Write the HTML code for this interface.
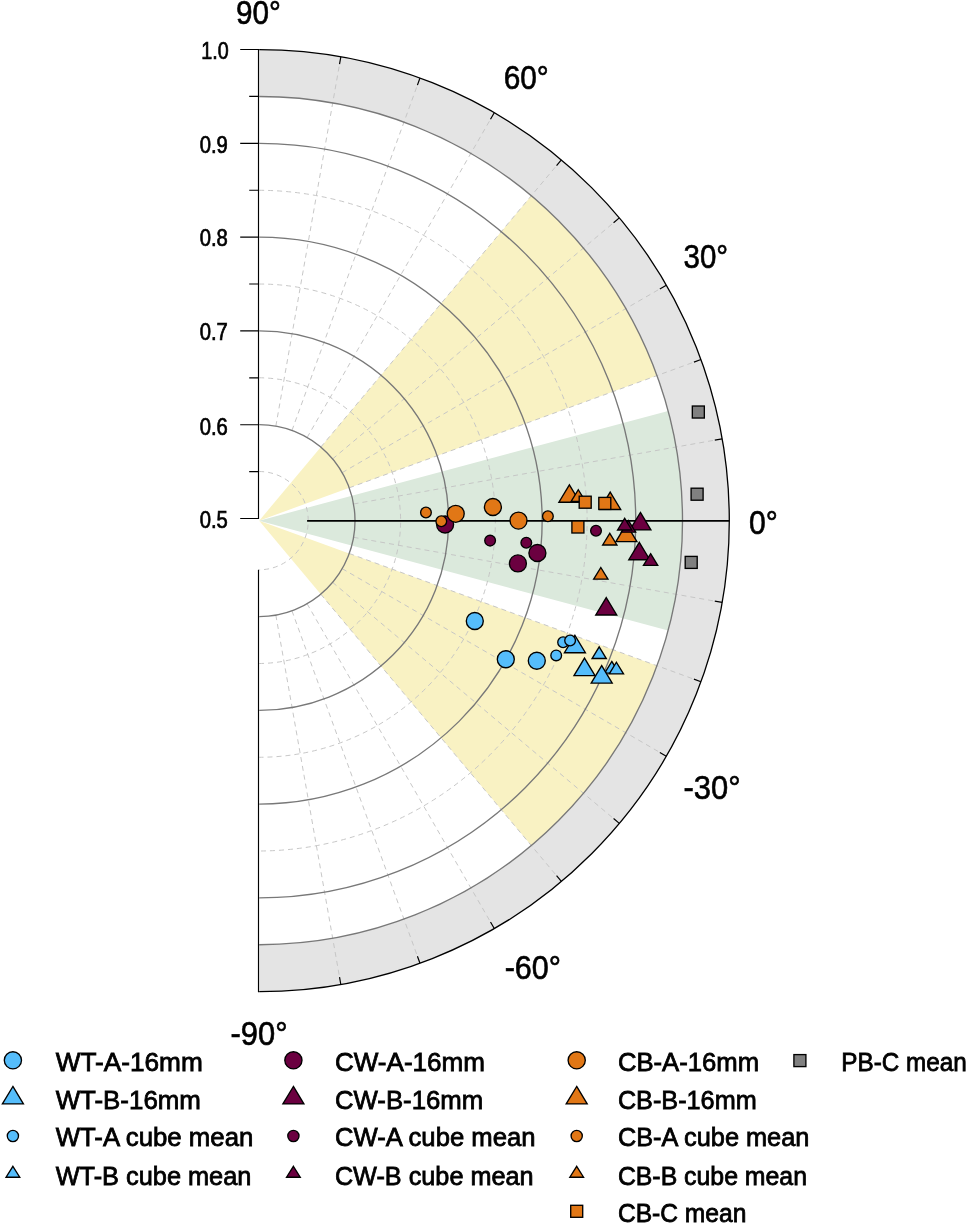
<!DOCTYPE html>
<html lang="en"><head><meta charset="utf-8"><title>Polar plot</title>
<style>html,body{margin:0;padding:0;background:#fff}body{width:968px;height:1225px;overflow:hidden}svg{display:block}text{font-family:"Liberation Sans",sans-serif;fill:#000}.tk{font-size:23.1px;stroke:#000;stroke-width:.7px}.ang{font-size:32.4px;stroke:#000;stroke-width:.6px}.lg{font-size:26.1px;stroke:#000;stroke-width:.8px}.m{stroke:#000;stroke-width:1.35;stroke-linejoin:miter}</style></head><body>
<svg width="968" height="1225" viewBox="0 0 968 1225">
<rect width="968" height="1225" fill="#fff"/>
<path d="M259.20 49.65A470.10 471.00 0 0 1 259.20 991.65L259.20 944.77A423.31 424.12 0 0 0 259.20 96.53Z" fill="#e4e4e4"/>
<path d="M259.20 520.65L656.99 375.59A423.31 424.12 0 0 0 531.30 195.75Z" fill="#f9f2c3"/>
<path d="M259.20 520.65L531.30 845.55A423.31 424.12 0 0 0 656.99 665.71Z" fill="#f9f2c3"/>
<path d="M259.20 520.65L668.09 630.42A423.31 424.12 0 0 0 668.09 410.88Z" fill="#dbe9dc"/>
<path d="M259.20 471.52A49.03 49.13 0 0 1 259.20 569.78M259.20 377.77A142.60 142.88 0 0 1 259.20 663.52M259.20 284.02A236.17 236.62 0 0 1 259.20 757.27M259.20 190.27A329.74 330.38 0 0 1 259.20 851.02" fill="none" stroke="#c4c4c4" stroke-width="0.95" stroke-dasharray="5 4"/>
<path d="M275.84 615.19L339.62 977.60M291.97 610.86L417.59 956.67M307.11 603.79L490.76 922.49M320.79 594.19L556.88 876.09M332.60 582.36L613.97 818.90M342.18 568.65L660.27 752.65M349.24 553.48L694.38 679.35M353.56 537.32L715.28 601.22M353.56 503.98L715.28 440.08M349.24 487.82L694.38 361.95M342.18 472.65L660.27 288.65M332.60 458.94L613.97 222.40M320.79 447.11L556.88 165.21M307.11 437.51L490.76 118.81M291.97 430.44L417.59 84.63M275.84 426.11L339.62 63.70" fill="none" stroke="#c4c4c4" stroke-width="0.95" stroke-dasharray="5 4"/>
<path d="M259.20 424.65A95.82 96.00 0 0 1 259.20 616.65M259.20 330.90A189.39 189.75 0 0 1 259.20 710.40M259.20 237.15A282.96 283.50 0 0 1 259.20 804.15M259.20 143.40A376.53 377.25 0 0 1 259.20 897.90M259.20 96.53A423.31 424.12 0 0 1 259.20 944.77" fill="none" stroke="#787878" stroke-width="1.35"/>
<path d="M259.20 49.65A470.10 471.00 0 0 1 259.20 991.65" fill="none" stroke="#000" stroke-width="1.3"/>
<path d="M340.83 984.49L339.53 977.11M419.98 963.25L417.42 956.20M494.25 928.55L490.51 922.05M561.37 881.46L556.56 875.71M619.32 823.40L613.58 818.58M666.32 756.15L659.84 752.40M700.95 681.74L693.92 679.18M722.16 602.44L714.79 601.14M722.16 438.86L714.79 440.16M700.95 359.56L693.92 362.12M666.32 285.15L659.84 288.90M619.32 217.90L613.58 222.72M561.37 159.84L556.56 165.59M494.25 112.75L490.51 119.25M419.98 78.05L417.42 85.10M340.83 56.81L339.53 64.19" fill="none" stroke="#000" stroke-width="1.2"/>
<path d="M307.1 520.9H729.30" stroke="#000" stroke-width="1.8" fill="none"/>
<path d="M258.5 48.9V519.1M240.20 49.5H258.5M240.20 143.3H258.5M240.20 237.1H258.5M240.20 330.9H258.5M240.20 424.7H258.5M240.20 518.5H258.5M249.20 96.40H258.5M249.20 190.20H258.5M249.20 284.00H258.5M249.20 377.80H258.5M249.20 471.60H258.5M258.5 569.8V992.25" fill="none" stroke="#000" stroke-width="1.15"/>
<text class="tk" x="201.28" y="59.20" textLength="27.41" lengthAdjust="spacingAndGlyphs">1.0</text>
<text class="tk" x="199.70" y="152.80" textLength="28.15" lengthAdjust="spacingAndGlyphs">0.9</text>
<text class="tk" x="199.70" y="246.40" textLength="28.15" lengthAdjust="spacingAndGlyphs">0.8</text>
<text class="tk" x="199.70" y="340.00" textLength="28.15" lengthAdjust="spacingAndGlyphs">0.7</text>
<text class="tk" x="199.70" y="434.60" textLength="28.15" lengthAdjust="spacingAndGlyphs">0.6</text>
<text class="tk" x="199.70" y="528.20" textLength="28.15" lengthAdjust="spacingAndGlyphs">0.5</text>
<text class="ang" x="236.04" y="23.50" textLength="44.85" lengthAdjust="spacingAndGlyphs">90°</text>
<text class="ang" x="503.64" y="89.00" textLength="45.10" lengthAdjust="spacingAndGlyphs">60°</text>
<text class="ang" x="683.53" y="268.20" textLength="44.64" lengthAdjust="spacingAndGlyphs">30°</text>
<text class="ang" x="748.97" y="534.00" textLength="28.82" lengthAdjust="spacingAndGlyphs">0°</text>
<text class="ang" x="683.57" y="799.10" textLength="57.10" lengthAdjust="spacingAndGlyphs">-30°</text>
<text class="ang" x="504.69" y="979.30" textLength="56.37" lengthAdjust="spacingAndGlyphs">-60°</text>
<text class="ang" x="230.55" y="1044.50" textLength="57.02" lengthAdjust="spacingAndGlyphs">-90°</text>
<g><circle class="m" cx="474.80" cy="621.00" r="8.5" fill="#55bdfb"/><circle class="m" cx="505.80" cy="659.20" r="8.5" fill="#55bdfb"/><circle class="m" cx="536.80" cy="660.70" r="8.5" fill="#55bdfb"/><path class="m" d="M611.80 661.45L618.93 673.09H604.67Z" fill="#55bdfb"/><path class="m" d="M574.90 635.30L585.40 652.75H564.40Z" fill="#55bdfb"/><path class="m" d="M584.50 658.10L595.00 675.55H574.00Z" fill="#55bdfb"/><path class="m" d="M601.70 665.65L612.20 683.10H591.20Z" fill="#55bdfb"/><circle class="m" cx="445.10" cy="524.50" r="8.5" fill="#6b0040"/><circle class="m" cx="537.40" cy="553.00" r="8.5" fill="#6b0040"/><circle class="m" cx="517.90" cy="563.40" r="8.5" fill="#6b0040"/><path class="m" d="M640.40 512.45L650.90 529.90H629.90Z" fill="#6b0040"/><path class="m" d="M639.30 542.30L649.80 559.75H628.80Z" fill="#6b0040"/><path class="m" d="M606.25 597.56L616.75 615.01H595.75Z" fill="#6b0040"/><circle class="m" cx="455.70" cy="513.80" r="8.5" fill="#e17716"/><circle class="m" cx="492.90" cy="507.00" r="8.5" fill="#e17716"/><circle class="m" cx="518.50" cy="520.60" r="8.5" fill="#e17716"/><path class="m" d="M569.40 484.80L579.90 502.25H558.90Z" fill="#e17716"/><path class="m" d="M610.20 492.05L620.70 509.50H599.70Z" fill="#e17716"/><path class="m" d="M626.40 524.15L636.90 541.60H615.90Z" fill="#e17716"/><circle class="m" cx="556.20" cy="655.40" r="5.35" fill="#55bdfb"/><circle class="m" cx="563.10" cy="642.20" r="5.35" fill="#55bdfb"/><circle class="m" cx="570.10" cy="640.50" r="5.35" fill="#55bdfb"/><path class="m" d="M599.20 646.90L606.33 658.54H592.07Z" fill="#55bdfb"/><path class="m" d="M616.40 662.25L623.53 673.89H609.27Z" fill="#55bdfb"/><circle class="m" cx="490.10" cy="540.60" r="5.35" fill="#6b0040"/><circle class="m" cx="526.30" cy="542.70" r="5.35" fill="#6b0040"/><circle class="m" cx="596.00" cy="530.70" r="5.35" fill="#6b0040"/><path class="m" d="M628.50 520.55L635.63 532.19H621.37Z" fill="#6b0040"/><path class="m" d="M624.70 518.35L631.83 529.99H617.57Z" fill="#6b0040"/><path class="m" d="M650.60 553.70L657.73 565.34H643.47Z" fill="#6b0040"/><circle class="m" cx="425.96" cy="512.45" r="5.35" fill="#e17716"/><circle class="m" cx="441.30" cy="521.20" r="5.35" fill="#e17716"/><circle class="m" cx="547.90" cy="516.20" r="5.35" fill="#e17716"/><path class="m" d="M578.30 489.75L585.43 501.39H571.17Z" fill="#e17716"/><path class="m" d="M609.80 533.35L616.93 544.99H602.67Z" fill="#e17716"/><path class="m" d="M600.83 567.51L607.96 579.15H593.70Z" fill="#e17716"/><rect class="m" x="579.20" y="496.20" width="12.0" height="12.0" fill="#e17716"/><rect class="m" x="598.80" y="497.40" width="12.0" height="12.0" fill="#e17716"/><rect class="m" x="571.90" y="521.00" width="12.0" height="12.0" fill="#e17716"/><rect class="m" x="692.33" y="406.03" width="12.0" height="12.0" fill="#808080"/><rect class="m" x="691.10" y="488.20" width="12.0" height="12.0" fill="#808080"/><rect class="m" x="685.20" y="556.40" width="12.0" height="12.0" fill="#808080"/></g>
<g><text class="lg" x="55.69" y="1071.00" textLength="147.11" lengthAdjust="spacingAndGlyphs">WT-A-16mm</text><circle class="m" cx="12.90" cy="1060.30" r="8.6" fill="#55bdfb"/><text class="lg" x="55.69" y="1109.10" textLength="145.21" lengthAdjust="spacingAndGlyphs">WT-B-16mm</text><path class="m" d="M12.90 1086.45L23.40 1103.90H2.40Z" fill="#55bdfb"/><text class="lg" x="55.70" y="1146.20" textLength="197.60" lengthAdjust="spacingAndGlyphs">WT-A cube mean</text><circle class="m" cx="12.90" cy="1136.00" r="5.6" fill="#55bdfb"/><text class="lg" x="55.70" y="1184.50" textLength="195.70" lengthAdjust="spacingAndGlyphs">WT-B cube mean</text><path class="m" d="M12.90 1166.30L19.75 1177.20H6.05Z" fill="#55bdfb"/><text class="lg" x="334.89" y="1071.00" textLength="150.11" lengthAdjust="spacingAndGlyphs">CW-A-16mm</text><circle class="m" cx="293.40" cy="1060.30" r="8.6" fill="#6b0040"/><text class="lg" x="334.88" y="1109.10" textLength="148.33" lengthAdjust="spacingAndGlyphs">CW-B-16mm</text><path class="m" d="M293.40 1086.45L303.90 1103.90H282.90Z" fill="#6b0040"/><text class="lg" x="334.89" y="1146.20" textLength="200.61" lengthAdjust="spacingAndGlyphs">CW-A cube mean</text><circle class="m" cx="293.40" cy="1136.00" r="5.6" fill="#6b0040"/><text class="lg" x="334.89" y="1184.50" textLength="198.71" lengthAdjust="spacingAndGlyphs">CW-B cube mean</text><path class="m" d="M293.40 1166.30L300.25 1177.20H286.55Z" fill="#6b0040"/><text class="lg" x="617.89" y="1071.00" textLength="141.24" lengthAdjust="spacingAndGlyphs">CB-A-16mm</text><circle class="m" cx="576.70" cy="1060.30" r="8.6" fill="#e17716"/><text class="lg" x="617.88" y="1109.10" textLength="138.83" lengthAdjust="spacingAndGlyphs">CB-B-16mm</text><path class="m" d="M576.70 1086.45L587.20 1103.90H566.20Z" fill="#e17716"/><text class="lg" x="617.89" y="1146.20" textLength="191.52" lengthAdjust="spacingAndGlyphs">CB-A cube mean</text><circle class="m" cx="576.70" cy="1136.00" r="5.6" fill="#e17716"/><text class="lg" x="617.89" y="1184.50" textLength="189.11" lengthAdjust="spacingAndGlyphs">CB-B cube mean</text><path class="m" d="M576.70 1166.30L583.55 1177.20H569.85Z" fill="#e17716"/><text class="lg" x="617.88" y="1222.40" textLength="128.53" lengthAdjust="spacingAndGlyphs">CB-C mean</text><rect class="m" x="570.70" y="1205.30" width="12.0" height="12.0" fill="#e17716"/><text class="lg" x="841.36" y="1071.00" textLength="125.47" lengthAdjust="spacingAndGlyphs">PB-C mean</text><rect class="m" x="793.90" y="1054.60" width="12.0" height="12.0" fill="#808080"/></g>
</svg></body></html>
